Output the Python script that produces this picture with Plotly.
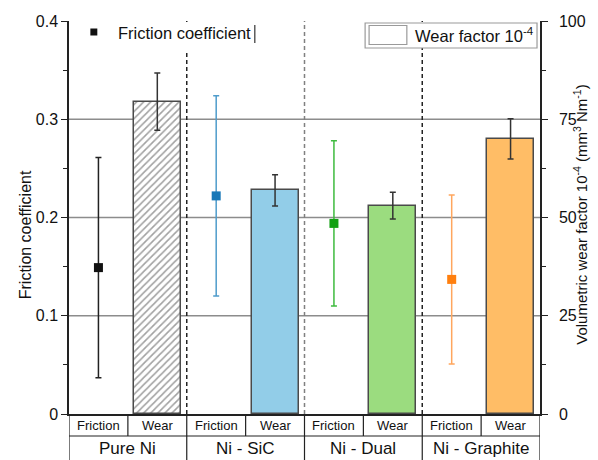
import plotly.graph_objects as go

# Sample groups and measured values
groups = ["Pure Ni", "Ni - SiC", "Ni - Dual", "Ni - Graphite"]
sub_labels = ["Friction", "Wear"]

friction = [0.149, 0.222, 0.194, 0.137]
friction_err = [0.112, 0.102, 0.084, 0.086]

wear = [79.5, 56.9, 53.0, 70.0]          # x 10^-4 mm^3 N^-1 m^-1
wear_err = [7.3, 4.0, 3.4, 5.1]

friction_marker_colors = ["#111111", "#1878b8", "#13a013", "#ff7f0e"]
friction_err_colors = ["#222222", "#4f9ccb", "#3fbb3f", "#ffa65e"]
bar_colors = ["#ffffff", "#92cde8", "#9bdc7f", "#ffbd66"]
bar_patterns = ["/", "", "", ""]

FONT = "Liberation Sans, Arial, sans-serif"

fric_x = [2 * i + 0.5 for i in range(len(groups))]
wear_x = [2 * i + 1.5 for i in range(len(groups))]

fig = go.Figure()

# Wear-factor bars on the right axis
fig.add_trace(go.Bar(
    x=wear_x, y=wear, width=0.8, yaxis="y2",
    marker=dict(
        color=bar_colors,
        line=dict(color="#4a4a4a", width=1.5),
        pattern=dict(shape=bar_patterns, fgcolor="#2a2a2a", bgcolor="#ffffff",
                     size=5, solidity=0.32),
    ),
    error_y=dict(type="data", array=wear_err, visible=True,
                 color="#333333", thickness=1.5, width=3),
    showlegend=False,
))

# Friction coefficient points, one trace per sample for individual colours
for i in range(len(groups)):
    fig.add_trace(go.Scatter(
        x=[fric_x[i]], y=[friction[i]], mode="markers", yaxis="y",
        marker=dict(symbol="square", size=9, color=friction_marker_colors[i]),
        error_y=dict(type="data", array=[friction_err[i]], visible=True,
                     color=friction_err_colors[i], thickness=1.5, width=3),
        showlegend=False,
    ))

shapes = []
# Horizontal grid lines
for g in [0.1, 0.2, 0.3]:
    shapes.append(dict(type="line", xref="paper", yref="y", x0=0, x1=1, y0=g, y1=g,
                       line=dict(color="#8c8c8c", width=1.3), layer="below"))
# Group separators inside the plot
sep_styles = {2: "#222222", 4: "#808080", 6: "#222222"}
for xs, col in sep_styles.items():
    shapes.append(dict(type="line", xref="x", yref="y", x0=xs, x1=xs, y0=0, y1=0.4,
                       line=dict(color=col, width=1.5, dash="4px,3px"), layer="below"))

# Category table under the x axis
row1 = -22 / 393
row2 = -46 / 393
shapes.append(dict(type="line", xref="x", yref="paper", x0=0, x1=8, y0=row1, y1=row1,
                   line=dict(color="#222222", width=1.2)))
for xs in [0, 2, 4, 6, 8]:
    shapes.append(dict(type="line", xref="x", yref="paper", x0=xs, x1=xs, y0=0, y1=row2,
                       line=dict(color="#222222", width=1.2)))
for xs in [1, 3, 5, 7]:
    shapes.append(dict(type="line", xref="x", yref="paper", x0=xs, x1=xs, y0=0, y1=row1,
                       line=dict(color="#222222", width=1.2)))

# Legend boxes
px = lambda p: (p - 69) / 474          # pixel x -> paper
py = lambda p: (414 - p) / 393         # pixel y -> paper
shapes.append(dict(type="rect", xref="paper", yref="paper",
                   x0=px(78), x1=px(256), y0=py(50), y1=py(22),
                   fillcolor="#ffffff", line=dict(width=0)))
shapes.append(dict(type="line", xref="paper", yref="paper",
                   x0=px(256), x1=px(256), y0=py(43), y1=py(25),
                   line=dict(color="#333333", width=1.2)))
shapes.append(dict(type="rect", xref="paper", yref="paper",
                   x0=px(367), x1=px(540), y0=py(48), y1=py(23),
                   fillcolor="#ffffff", line=dict(color="#9a9a9a", width=1.2)))
shapes.append(dict(type="rect", xref="paper", yref="paper",
                   x0=px(371), x1=px(409), y0=py(44.5), y1=py(25.5),
                   fillcolor="#ffffff", line=dict(color="#9a9a9a", width=1.2)))
shapes.append(dict(type="rect", xref="paper", yref="paper",
                   x0=px(90.5), x1=px(97.5), y0=py(35.5), y1=py(28.5),
                   fillcolor="#111111", line=dict(width=0)))


def label(x, y, text, size, xref="paper", xanchor="center", angle=0):
    return dict(x=x, y=y, xref=xref, yref="paper", text=text, showarrow=False,
                xanchor=xanchor, yanchor="middle", textangle=angle,
                font=dict(size=size, color="#111111", family=FONT))


annotations = []
for i, g in enumerate(groups):
    annotations.append(label(2 * i + 1, py(448), g, 17, xref="x"))
    for j, s in enumerate(sub_labels):
        annotations.append(label(2 * i + 0.5 + j, py(425.5), s, 13, xref="x"))

annotations.append(label(px(116), py(33), "Friction coefficient", 16.5, xanchor="left"))
annotations.append(label(px(415), py(35), "Wear factor 10<sup>-4</sup>", 16.5, xanchor="left"))
annotations.append(label(px(25), py(235), "Friction coefficient", 16, angle=-90))
annotations.append(label(px(583), py(215),
                         "Volumetric wear factor 10<sup>-4</sup> (mm<sup>3</sup>&nbsp;Nm<sup>-1</sup>)",
                         15, angle=-90))

fig.update_layout(
    width=598, height=460,
    margin=dict(l=69, r=55, t=21, b=46),
    paper_bgcolor="#ffffff", plot_bgcolor="#ffffff",
    font=dict(family=FONT, size=16, color="#111111"),
    xaxis=dict(range=[0, 8], showgrid=False, zeroline=False, showticklabels=False,
               ticks="", showline=True, linecolor="#222222", linewidth=1.5),
    yaxis=dict(range=[0, 0.4], dtick=0.1, tickformat="~g", showgrid=False, zeroline=False,
               showline=True, linecolor="#222222", linewidth=1.5,
               ticks="outside", ticklen=6, tickwidth=1.2, tickcolor="#222222",
               minor=dict(dtick=0.05, ticks="outside", ticklen=4, tickcolor="#222222"),
               tickfont=dict(size=16, color="#111111")),
    yaxis2=dict(range=[0, 100], dtick=25, overlaying="y", side="right",
                showgrid=False, zeroline=False,
                showline=True, linecolor="#222222", linewidth=1.5,
                ticks="outside", ticklen=6, tickwidth=1.2, tickcolor="#222222",
                ticklabelstandoff=8,
                minor=dict(dtick=12.5, ticks="outside", ticklen=4, tickcolor="#222222"),
                tickfont=dict(size=16, color="#111111")),
    shapes=shapes,
    annotations=annotations,
    bargap=0,
)

fig.write_html("out.html")
